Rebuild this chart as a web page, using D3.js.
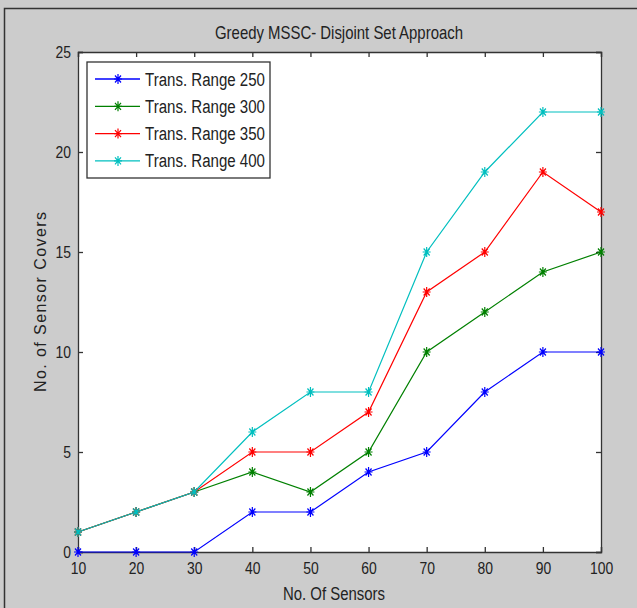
<!DOCTYPE html>
<html>
<head>
<meta charset="utf-8">
<script src="https://cdn.jsdelivr.net/npm/d3@7"></script>
<style>
  body { margin: 0; background: #cccccc; }
  text { font-family: "Liberation Sans", Arial, sans-serif; fill: #222; }
</style>
</head>
<body>
<div id="chart"></div>
<script>
const sensors = [10, 20, 30, 40, 50, 60, 70, 80, 90, 100];
const range250 = [0, 0, 0, 2, 2, 4, 5, 8, 10, 10];
const range300 = [1, 2, 3, 4, 3, 5, 10, 12, 14, 15];
const range350 = [1, 2, 3, 5, 5, 7, 13, 15, 19, 17];
const range400 = [1, 2, 3, 6, 8, 8, 15, 19, 22, 22];
const seriesNames = ["Trans. Range 250", "Trans. Range 300", "Trans. Range 350", "Trans. Range 400"];
const seriesColors = ["#0000ff", "#008000", "#ff0000", "#00bfbf"];
const yTicks = [0, 5, 10, 15, 20, 25];

const width = 637, height = 608;
const mLeft = 78, mRight = 601, mTop = 52, mBottom = 552;
const squeeze = 0.82; // matlab text looks condensed

const svg = d3.select("#chart").append("svg")
  .attr("width", width)
  .attr("height", height);

// figure background + border
svg.append("rect").attr("width", width).attr("height", height).attr("fill", "#cccccc");
svg.append("path")
  .attr("d", `M4.5,${height} V8.5 H${width}`)
  .attr("fill", "none").attr("stroke", "#333").attr("stroke-width", 1.5);

const x = d3.scaleLinear().domain([10, 100]).range([mLeft, mRight]);
const y = d3.scaleLinear().domain([0, 25]).range([mBottom, mTop]);

svg.append("rect")
  .attr("x", mLeft).attr("y", mTop)
  .attr("width", mRight - mLeft).attr("height", mBottom - mTop)
  .attr("fill", "#fff");

// axes (ticks inward on all sides)
const axB = svg.append("g").attr("transform", `translate(0,${mBottom})`)
  .call(d3.axisBottom(x).tickValues(sensors).tickSize(-5).tickPadding(10).tickFormat(d3.format("d")));
const axT = svg.append("g").attr("transform", `translate(0,${mTop})`)
  .call(d3.axisTop(x).tickValues(sensors).tickSize(-5).tickFormat(""));
const axL = svg.append("g").attr("transform", `translate(${mLeft},0)`)
  .call(d3.axisLeft(y).tickValues(yTicks).tickSize(-5).tickPadding(10));
const axR = svg.append("g").attr("transform", `translate(${mRight},0)`)
  .call(d3.axisRight(y).tickValues(yTicks).tickSize(-5).tickFormat(""));

[axB, axT, axL, axR].forEach(a => {
  a.selectAll("path, line").attr("stroke", "#333").attr("stroke-width", 1.3);
  a.selectAll("text")
    .attr("font-size", 17)
    .style("font-family", '"Liberation Sans", Arial, sans-serif')
    .attr("fill", "#222")
    .attr("transform", `scale(${squeeze},1)`);
});
axL.selectAll("text").attr("x", -7 / squeeze);

// lines + asterisk markers
const series = [range250, range300, range350, range400];
const line = d3.line().x((d, i) => x(sensors[i])).y(d => y(d));

function star(g, color) {
  g.append("path")
    .attr("d", "M-4,0H4M0,-5V5M-3,-3.5L3,3.5M-3,3.5L3,-3.5")
    .attr("stroke", color).attr("stroke-width", 1.2).attr("fill", "none");
}

series.forEach((vals, k) => {
  const g = svg.append("g");
  g.append("path").datum(vals)
    .attr("d", line)
    .attr("fill", "none")
    .attr("stroke", seriesColors[k])
    .attr("stroke-width", 1.2);
  g.selectAll(".pt").data(vals).enter().append("g")
    .attr("transform", (d, i) => `translate(${x(sensors[i])},${y(d)})`)
    .each(function () { star(d3.select(this), seriesColors[k]); });
});

// legend
const lg = svg.append("g").attr("transform", "translate(87,62)");
lg.append("rect").attr("width", 183).attr("height", 116)
  .attr("fill", "#fff").attr("stroke", "#333").attr("stroke-width", 1.3);
seriesNames.forEach((name, k) => {
  const ly = 17 + k * 27.3;
  lg.append("line").attr("x1", 8).attr("x2", 53).attr("y1", ly).attr("y2", ly)
    .attr("stroke", seriesColors[k]).attr("stroke-width", 1.3);
  const m = lg.append("g").attr("transform", `translate(31,${ly})`);
  star(m, seriesColors[k]);
  lg.append("text").attr("x", 58).attr("y", ly + 6.5)
    .attr("font-size", 18)
    .attr("textLength", 120).attr("lengthAdjust", "spacingAndGlyphs")
    .text(name);
});

// titles
svg.append("text").attr("x", 339).attr("y", 39).attr("text-anchor", "middle")
  .attr("font-size", 18.5)
  .attr("textLength", 248).attr("lengthAdjust", "spacingAndGlyphs")
  .text("Greedy MSSC- Disjoint Set Approach");
svg.append("text").attr("x", 334).attr("y", 600).attr("text-anchor", "middle")
  .attr("font-size", 18)
  .attr("textLength", 102).attr("lengthAdjust", "spacingAndGlyphs")
  .text("No. Of Sensors");
svg.append("text")
  .attr("transform", "translate(46,302) rotate(-90)")
  .attr("text-anchor", "middle")
  .attr("font-size", 16)
  .attr("textLength", 180).attr("lengthAdjust", "spacing")
  .text("No. of Sensor Covers");
</script>
</body>
</html>
